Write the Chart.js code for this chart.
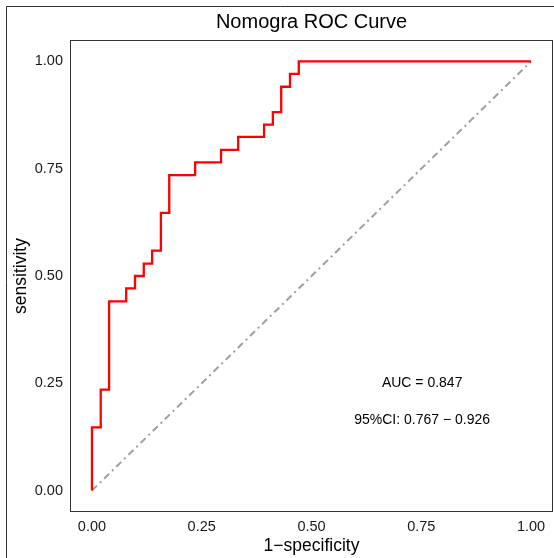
<!DOCTYPE html>
<html>
<head>
<meta charset="utf-8">
<script src="https://cdn.jsdelivr.net/npm/chart.js@4/dist/chart.umd.min.js"></script>
<style>
  html, body { margin: 0; padding: 0; background: #fff; }
</style>
</head>
<body>
<canvas id="roc" width="554" height="558"></canvas>
<script>
// ROC points (1-specificity, sensitivity)
const fpr = [0, 0, 0.020, 0.039, 0.078, 0.098, 0.118, 0.137, 0.157, 0.176, 0.235, 0.294, 0.333, 0.392, 0.412, 0.431, 0.451, 0.471, 1];
const tpr = [0, 0.147, 0.235, 0.441, 0.471, 0.500, 0.529, 0.559, 0.647, 0.735, 0.765, 0.794, 0.824, 0.853, 0.882, 0.941, 0.971, 1, 1];

// reference diagonal
const diagX = [0, 1];
const diagY = [0, 1];

const tickValues = [0, 0.25, 0.5, 0.75, 1];
const tickLabels = ["0.00", "0.25", "0.50", "0.75", "1.00"];

const aucText = "AUC = 0.847";
const ciText = "95%CI: 0.767 \u2212 0.926";
const textX = 0.752;
const aucY = 0.251;
const ciY = 0.165;

const FONT = "'Liberation Sans', Arial, Helvetica, sans-serif";

const framePlugin = {
    id: 'frame',
    beforeDraw(chart) {
        const ctx = chart.ctx;
        ctx.save();
        ctx.fillStyle = '#fff';
        ctx.fillRect(0, 0, chart.width, chart.height);
        // outer figure frame (left and top edges visible)
        ctx.strokeStyle = '#333';
        ctx.lineWidth = 1;
        ctx.beginPath();
        ctx.moveTo(6.5, chart.height);
        ctx.lineTo(6.5, 6.5);
        ctx.lineTo(chart.width, 6.5);
        ctx.stroke();
        ctx.restore();
    },
    afterDatasetsDraw(chart) {
        const ctx = chart.ctx;
        const a = chart.chartArea;
        const xs = chart.scales.x, ys = chart.scales.y;
        ctx.save();
        ctx.strokeStyle = '#333';
        ctx.lineWidth = 1;
        ctx.strokeRect(a.left + 0.5, a.top + 0.5, a.right - a.left - 1, a.bottom - a.top - 1);
        ctx.fillStyle = '#000';
        ctx.font = '14px ' + FONT;
        ctx.textAlign = 'center';
        ctx.textBaseline = 'middle';
        ctx.fillText(aucText, xs.getPixelForValue(textX), ys.getPixelForValue(aucY));
        ctx.fillText(ciText, xs.getPixelForValue(textX), ys.getPixelForValue(ciY));
        ctx.restore();
    }
};

const setTicks = scale => {
    scale.ticks = tickValues.map(v => ({ value: v }));
};

new Chart(document.getElementById('roc'), {
    type: 'line',
    data: {
        datasets: [
            {
                data: fpr.map((x, i) => ({ x: x, y: tpr[i] })),
                borderColor: '#ff0000',
                borderWidth: 2.3,
                stepped: 'before',
                pointRadius: 0,
                fill: false
            },
            {
                data: diagX.map((x, i) => ({ x: x, y: diagY[i] })),
                borderColor: '#a0a0a0',
                borderWidth: 2,
                borderDash: [7, 4, 2, 4],
                pointRadius: 0,
                fill: false
            }
        ]
    },
    options: {
        responsive: false,
        animation: false,
        devicePixelRatio: 1,
        layout: { padding: { left: 0, right: 1, top: 0, bottom: 0 } },
        plugins: {
            legend: { display: false },
            tooltip: { enabled: false },
            title: {
                display: true,
                text: 'Nomogra ROC Curve',
                color: '#000',
                fullSize: false,
                font: { family: FONT, size: 20, weight: 'normal', lineHeight: 1.2 },
                padding: { top: 10, bottom: 6 }
            }
        },
        scales: {
            x: {
                type: 'linear',
                min: -0.05,
                max: 1.05,
                afterBuildTicks: setTicks,
                afterFit: s => { s.height = 46; },
                grid: { display: false, drawTicks: false },
                border: { display: false },
                ticks: {
                    padding: 6,
                    color: '#1a1a1a',
                    font: { family: FONT, size: 14.5 },
                    maxRotation: 0,
                    callback: (v) => tickLabels[tickValues.indexOf(v)]
                },
                title: {
                    display: true,
                    text: '1\u2212specificity',
                    color: '#000',
                    font: { family: FONT, size: 17.5 },
                    padding: { top: 0, bottom: 1 }
                }
            },
            y: {
                type: 'linear',
                min: -0.05,
                max: 1.05,
                afterBuildTicks: setTicks,
                afterFit: s => { s.width = 70; },
                grid: { display: false, drawTicks: false },
                border: { display: false },
                ticks: {
                    padding: 7,
                    color: '#1a1a1a',
                    font: { family: FONT, size: 14.5 },
                    callback: (v) => tickLabels[tickValues.indexOf(v)]
                },
                title: {
                    display: true,
                    text: 'sensitivity',
                    color: '#000',
                    font: { family: FONT, size: 17.5 },
                    padding: { top: 11, bottom: 0 }
                }
            }
        }
    },
    plugins: [framePlugin]
});
</script>
</body>
</html>
